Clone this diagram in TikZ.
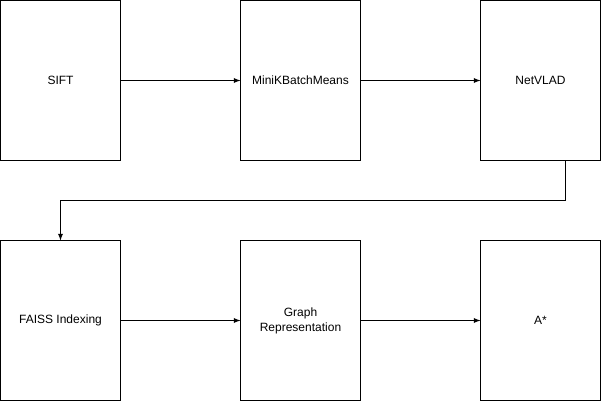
\documentclass[tikz,border=0pt]{standalone}
\usepackage{fontspec}
\setmainfont{Liberation Sans}
\usetikzlibrary{arrows,positioning}
\tikzset{stage/.style={draw,fill=none,line width=0.75pt,
                       text badly centered,align=center,font=\fontsize{9}{11.25}\selectfont,
                       minimum width=90pt,minimum height=120pt,inner sep=0pt,outer sep=0pt}}

\begin{document}
\begin{tikzpicture}[>=latex,
    x=0.75pt, y=0.75pt,
    % connectors
    flow/.style ={->, line width=0.75pt},
    node distance = 60pt and 90pt
  ]
    \useasboundingbox (0,0) rectangle (601,401);

    % top row
    \node[stage](sift) at (60.5,320.5) {SIFT};
    \node[stage, right=of sift](kmeans) {MiniKBatchMeans};
    \node[stage, right=of kmeans](netvlad) {NetVLAD};

    % bottom row
    \node[stage, below=of sift](faiss) {FAISS Indexing};
    \node[stage, right=of faiss](graph) {Graph\\Representation};
    \node[stage, right=of graph](astar) {A*};

    \coordinate (netout) at ([xshift=18.75pt]netvlad.south);

    \draw[flow] (sift) -- (kmeans);
    \draw[flow] (kmeans) -- (netvlad);
    \draw[flow] (netout) -- ++(0,-40) -| (faiss.north);
    \draw[flow] (faiss) -- (graph);
    \draw[flow] (graph) -- (astar);
\end{tikzpicture}
\end{document}
